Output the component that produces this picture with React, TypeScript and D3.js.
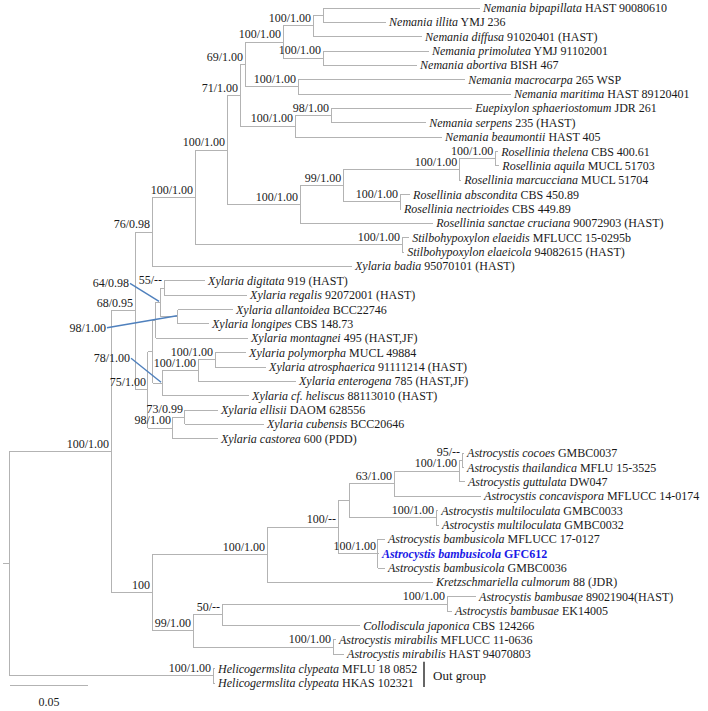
import React from "react";
import * as d3 from "d3";

const WIDTH = 708;
const HEIGHT = 711;

// ---------- Data ----------
// Terminal taxa, top to bottom
const taxonNames = [
  "Nemania bipapillata", "Nemania illita", "Nemania diffusa", "Nemania primolutea", "Nemania abortiva",
  "Nemania macrocarpa", "Nemania maritima", "Euepixylon sphaeriostomum", "Nemania serpens", "Nemania beaumontii",
  "Rosellinia thelena", "Rosellinia aquila", "Rosellinia marcucciana", "Rosellinia abscondita", "Rosellinia nectrioides",
  "Rosellinia sanctae cruciana", "Stilbohypoxylon elaeidis", "Stilbohypoxylon elaeicola", "Xylaria badia", "Xylaria digitata",
  "Xylaria regalis", "Xylaria allantoidea", "Xylaria longipes", "Xylaria montagnei", "Xylaria polymorpha",
  "Xylaria atrosphaerica", "Xylaria enterogena", "Xylaria cf. heliscus", "Xylaria ellisii", "Xylaria cubensis",
  "Xylaria castorea", "Astrocystis cocoes", "Astrocystis thailandica", "Astrocystis guttulata", "Astrocystis concavispora",
  "Astrocystis multiloculata", "Astrocystis multiloculata", "Astrocystis bambusicola", "Astrocystis bambusicola", "Astrocystis bambusicola",
  "Kretzschmariella culmorum", "Astrocystis bambusae", "Astrocystis bambusae", "Collodiscula japonica", "Astrocystis mirabilis",
  "Astrocystis mirabilis", "Helicogermslita clypeata", "Helicogermslita clypeata",
];

const taxonVouchers = [
  "HAST 90080610", "YMJ 236", "91020401 (HAST)", "YMJ 91102001", "BISH 467",
  "265 WSP", "HAST 89120401", "JDR 261", "235 (HAST)", "HAST 405",
  "CBS 400.61", "MUCL 51703", "MUCL 51704", "CBS 450.89", "CBS 449.89",
  "90072903 (HAST)", "MFLUCC 15-0295b", "94082615 (HAST)", "95070101 (HAST)", "919 (HAST)",
  "92072001 (HAST)", "BCC22746", "CBS 148.73", "495 (HAST,JF)", "MUCL 49884",
  "91111214 (HAST)", "785 (HAST,JF)", "88113010 (HAST)", "DAOM 628556", "BCC20646",
  "600 (PDD)", "GMBC0037", "MFLU 15-3525", "DW047", "MFLUCC 14-0174",
  "GMBC0033", "GMBC0032", "MFLUCC 17-0127", "GFC612", "GMBC0036",
  "88 (JDR)", "89021904(HAST)", "EK14005", "CBS 124266", "MFLUCC 11-0636",
  "HAST 94070803", "MFLU 18 0852", "HKAS 102321",
];

const taxonParents = [
  "A", "A", "B", "C", "C", "F", "F", "I", "I", "H",
  "O", "O", "M", "N", "N", "K", "R", "R", "S", "V",
  "V", "X", "X", "Y", "P1", "P1", "P2", "P3", "Z2", "Z2",
  "Z", "KK", "KK", "JJ", "HH", "II", "II", "GG", "GG", "GG",
  "CC", "NN", "NN", "LL", "MM", "MM", "OO", "OO",
];

// branch lengths (substitutions per site)
const taxonLengths = [
  0.1006, 0.0404, 0.0699, 0.0679, 0.0603, 0.1071, 0.1365, 0.0904, 0.0609, 0.0942,
  0.0019, 0.0026, 0.0013, 0.0064, 0.0006, 0.0853, 0.0045, 0.0013, 0.1282, 0.0263,
  0.0532, 0.0353, 0.0199, 0.0590, 0.0199, 0.0327, 0.0628, 0.0558, 0.0212, 0.0506,
  0.0288, 0.0013, 0.0013, 0.0038, 0.0558, 0.0013, 0.0019, 0.0045, 0.0006, 0.0045,
  0.1064, 0.0186, 0.0032, 0.0885, 0.0019, 0.0071, 0.0013, 0.0013,
];

const highlightIndex = 38; // Astrocystis bambusicola GFC612 (new collection)
const outgroupClade = "OO";

// Internal nodes (pre-order, top to bottom)
const cladeIds = [
  "root", "AA", "T", "S", "Q", "J", "G", "E", "D", "B", "A", "C", "F", "H", "I", "K", "L", "M", "O", "N", "R",
  "U", "Q1", "Y", "W", "V", "X", "P3", "P2", "P1", "Z", "Z2",
  "BB", "CC", "EE", "FF", "HH", "JJ", "KK", "II", "GG", "DD", "LL", "NN", "MM", "OO",
];
const cladeParents = [
  "", "root", "AA", "T", "S", "Q", "J", "G", "E", "D", "B", "D", "E", "G", "H", "J", "K", "L", "M", "L", "Q",
  "T", "U", "Q1", "Y", "W", "W", "Q1", "P3", "P2", "U", "Z",
  "AA", "BB", "CC", "EE", "FF", "HH", "JJ", "FF", "EE", "BB", "DD", "LL", "DD", "root",
];
const cladeLengths = [
  0, 0.0654, 0.0154, 0.0109, 0.0276, 0.0205, 0.0083, 0.0032, 0.0244, 0.0192, 0.0064, 0.0256, 0.0340, 0.0353, 0.0231, 0.0468, 0.0276, 0.0744, 0.0231, 0.0365, 0.1327,
  0.0083, 0.0032, 0.0019, 0.0026, 0.0026, 0.0115, 0.0058, 0.0231, 0.0109, 0.0160, 0.0077,
  0.0263, 0.0737, 0.0455, 0.0071, 0.0288, 0.0417, 0.0019, 0.0558, 0.0256, 0.0263, 0.0186, 0.1442, 0.0897, 0.1308,
];
// ML bootstrap / Bayesian posterior probability
const cladeSupports = [
  "", "100/1.00", "68/0.95", "76/0.98", "100/1.00", "100/1.00", "71/1.00", "69/1.00", "100/1.00", "100/1.00", "", "100/1.00", "100/1.00", "100/1.00", "98/1.00", "100/1.00", "99/1.00", "100/1.00", "100/1.00", "100/1.00", "100/1.00",
  "75/1.00", "", "", "64/0.98", "55/--", "98/1.00", "78/1.00", "100/1.00", "100/1.00", "98/1.00", "73/0.99",
  "100", "100/1.00", "100/--", "", "63/1.00", "100/1.00", "95/--", "100/1.00", "100/1.00", "99/1.00", "50/--", "100/1.00", "100/1.00", "100/1.00",
];

const rootStem = 0.0038;
const scaleBarValue = 0.05;
const scaleBarLabel = "0.05";
const outgroupLabel = "Out group";

// Supports drawn off to the side with a pointer line (label offset from node)
const calloutOffsets: Record<string, [number, number]> = {
  W: [-31, -19],
  X: [-72, 11],
  P3: [-32, -25],
};

// ---------- Styles ----------
const FONT = "'Liberation Serif', 'Times New Roman', serif";
const BRANCH = "#b3b3b3";
const CALLOUT = "#4f80bd";
const TEXT = "#1a1a1a";

type Row = {
  id: string;
  parent: string | null;
  len: number;
  support: string;
  name?: string;
  voucher?: string;
  leafIndex?: number;
};

type PNode = d3.HierarchyNode<Row> & { dist: number; px: number; py: number };

export default function App() {
  const rows: Row[] = [];
  cladeIds.forEach((id, i) =>
    rows.push({ id, parent: cladeParents[i] || null, len: cladeLengths[i], support: cladeSupports[i] })
  );
  taxonNames.forEach((n, i) =>
    rows.push({
      id: "t" + i,
      parent: taxonParents[i],
      len: taxonLengths[i],
      support: "",
      name: n,
      voucher: taxonVouchers[i],
      leafIndex: i,
    })
  );

  const root = d3
    .stratify<Row>()
    .id((d) => d.id)
    .parentId((d) => d.parent)(rows) as PNode;

  const x = d3.scaleLinear().domain([0, scaleBarValue]).range([9, 87]);
  const y = d3.scaleLinear().domain([0, taxonNames.length - 1]).range([8, 683]);

  root.eachBefore((n: any) => {
    n.dist = n.parent ? n.parent.dist + n.data.len : 0;
    n.px = x(n.dist);
  });
  root.eachAfter((n: any) => {
    if (!n.children) n.py = y(n.data.leafIndex);
    else n.py = (n.children[0].py + n.children[n.children.length - 1].py) / 2;
  });

  const nodes = root.descendants() as PNode[];
  const internals = nodes.filter((n) => n.children);
  const leaves = nodes.filter((n) => !n.children);

  let branchPath = "";
  nodes.forEach((n) => {
    const p = n.parent as PNode | null;
    if (p) branchPath += `M${p.px},${n.py}H${n.px}`;
  });
  internals.forEach((n) => {
    const c = n.children as PNode[];
    branchPath += `M${n.px},${c[0].py}V${c[c.length - 1].py}`;
  });
  branchPath += `M${x(-rootStem)},${root.py}H${root.px}`;

  const og = nodes.find((n) => n.data.id === outgroupClade) as PNode;
  const ogLeaves = og.leaves() as PNode[];
  const ogTop = ogLeaves[0].py - 7;
  const ogBottom = ogLeaves[ogLeaves.length - 1].py + 4;

  return (
    <svg
      width={WIDTH}
      height={HEIGHT}
      style={{ position: "absolute", left: 0, top: 0, background: "#fff" }}
      fontFamily={FONT}
    >
      <rect width={WIDTH} height={HEIGHT} fill="#fff" />
      <path d={branchPath} fill="none" stroke={BRANCH} strokeWidth={1} shapeRendering="crispEdges" />

      {/* support values */}
      {internals
        .filter((n) => n.data.support)
        .map((n) => {
          const off = calloutOffsets[n.data.id];
          if (off) {
            const ex = n.px + off[0];
            const cy = n.py + off[1];
            return (
              <g key={n.data.id}>
                <line x1={ex + 1} y1={cy} x2={n.px - 1} y2={n.py - 1} stroke={CALLOUT} strokeWidth={1.4} />
                <text x={ex} y={cy + 4} textAnchor="end" fontSize={12} fill={TEXT}>
                  {n.data.support}
                </text>
              </g>
            );
          }
          return (
            <text key={n.data.id} x={n.px - 2} y={n.py - 4} textAnchor="end" fontSize={12} fill={TEXT}>
              {n.data.support}
            </text>
          );
        })}

      {/* taxon labels */}
      {leaves.map((n) => {
        const hi = n.data.leafIndex === highlightIndex;
        return (
          <text
            key={n.data.id}
            x={n.px + 3}
            y={n.py}
            dy="0.33em"
            fontSize={12}
            fill={hi ? "#1a1ae6" : TEXT}
            fontWeight={hi ? "bold" : "normal"}
          >
            <tspan fontStyle="italic">{n.data.name}</tspan>
            <tspan>{" " + n.data.voucher}</tspan>
          </text>
        );
      })}

      {/* outgroup bracket */}
      <line x1={424} x2={424} y1={ogTop} y2={ogBottom} stroke="#333" strokeWidth={1.5} />
      <text x={433} y={og.py + 4} fontSize={13} fill={TEXT}>
        {outgroupLabel}
      </text>

      {/* scale bar */}
      <line x1={x(0) + 1} x2={x(scaleBarValue) + 1} y1={685} y2={685} stroke={BRANCH} strokeWidth={1} shapeRendering="crispEdges" />
      <text x={(x(0) + x(scaleBarValue)) / 2 + 1} y={706} textAnchor="middle" fontSize={12} fill={TEXT}>
        {scaleBarLabel}
      </text>
    </svg>
  );
}
